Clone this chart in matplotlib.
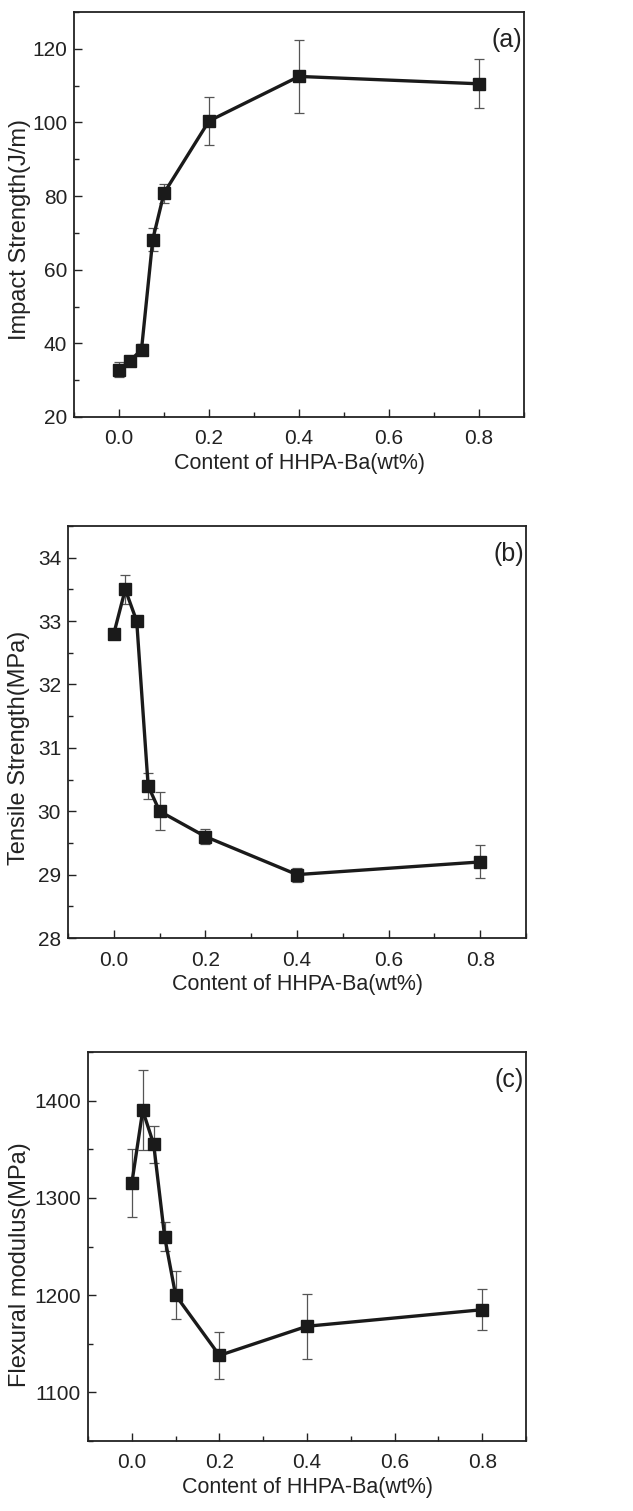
import matplotlib.pyplot as plt
import numpy as np
from matplotlib.ticker import MultipleLocator

plt.rcParams['font.family'] = ['Liberation Sans', 'DejaVu Sans']

content = [0.0, 0.025, 0.05, 0.075, 0.1, 0.2, 0.4, 0.8]

impact = [32.9, 35.3, 38.3, 68.2, 80.8, 100.4, 112.5, 110.5]
impact_err = [2.1, 0.8, 1.4, 3.0, 2.6, 6.4, 10.0, 6.7]

tensile = [32.8, 33.5, 33.0, 30.4, 30.0, 29.6, 29.0, 29.2]
tensile_err = [0.0, 0.23, 0.0, 0.21, 0.3, 0.12, 0.11, 0.26]

flex = [1315, 1390, 1355, 1260, 1200, 1138, 1168, 1185]
flex_err = [35, 41, 19, 15, 24.5, 24, 33.5, 21]

W, H = 633, 1511
fig = plt.figure(figsize=(W/100, H/100), dpi=100)

def box(l, r, t, b):
    return [l/W, 1-b/H, (r-l)/W, (b-t)/H]

# axes box in pixels, label centre (x, y) in pixels
panels = [
    ((74, 524, 12, 417), impact, impact_err, 'Impact Strength(J/m)', (20, 130), 20, 10, '(a)', (20, 230)),
    ((68, 526, 526, 938), tensile, tensile_err, 'Tensile Strength(MPa)', (28, 34.5), 1, 0.5, '(b)', (19, 748)),
    ((88, 526, 1052, 1441), flex, flex_err, 'Flexural modulus(MPa)', (1050, 1450), 100, 50, '(c)', (20, 1265)),
]

for (l, r, t, b), y, err, ylab, ylim, maj, mnr, tag, (lx, ly) in panels:
    ax = fig.add_axes(box(l, r, t, b))
    ax.errorbar(content, y, yerr=err, fmt='none', ecolor='#555555', elinewidth=0.9,
                capsize=3.5, capthick=0.9, zorder=2)
    ax.plot(content, y, '-s', color='#1a1a1a', lw=2.4, ms=8, zorder=3)
    ax.set_xlim(-0.1, 0.9)
    ax.set_ylim(*ylim)
    ax.xaxis.set_major_locator(MultipleLocator(0.2))
    ax.xaxis.set_minor_locator(MultipleLocator(0.1))
    ax.yaxis.set_major_locator(MultipleLocator(maj))
    ax.yaxis.set_minor_locator(MultipleLocator(mnr))
    ax.xaxis.set_major_formatter(plt.FormatStrFormatter('%.1f'))
    ax.tick_params(which='both', direction='in', top=False, right=False,
                   labelsize=15, color='#222222', labelcolor='#222222')
    ax.tick_params(axis='x', pad=9)
    ax.tick_params(axis='y', pad=5)
    ax.tick_params(which='major', length=6, width=1)
    ax.tick_params(which='minor', length=3.5, width=1)
    for s in ax.spines.values():
        s.set_linewidth(1.3)
        s.set_color('#222222')
    ax.set_xlabel('Content of HHPA-Ba(wt%)', fontsize=15.5, labelpad=3, color='#222222')
    ax.set_ylabel(ylab, fontsize=17, color='#222222', va='center')
    ax.yaxis.set_label_coords((lx - l)/(r - l), (b - ly)/(b - t))
    ax.text(0.995, 0.96, tag, transform=ax.transAxes, ha='right', va='top',
            fontsize=18, color='#222222')

fig.savefig('out.png', dpi=100)
